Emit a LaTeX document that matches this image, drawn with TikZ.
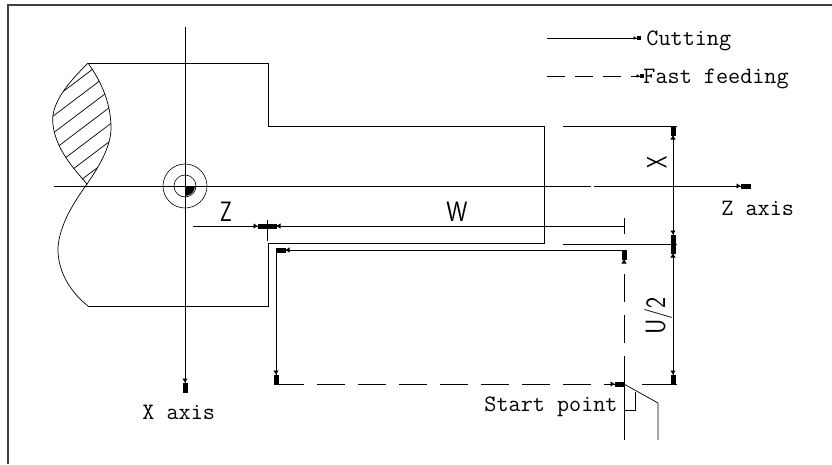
\documentclass[tikz,border=0pt]{standalone}
\usetikzlibrary{arrows.meta}
\newcommand\legfont{\ttfamily\fontsize{23.5}{23.5}\selectfont}
\newcommand\cadfont{\sffamily\fontsize{28}{28}\selectfont}
\begin{document}
\begin{tikzpicture}[x=1pt,y=-1pt,line width=0.9pt,
  blk/.tip={Triangle[length=4pt,width=5pt]Rectangle[length=10pt,width=5pt,sep=-0.5pt]},
  sblk/.tip={Triangle[length=3pt,width=3.5pt]Rectangle[length=4pt,width=3.5pt,sep=-0.5pt]},
  tip/.style={-{blk}},
  bitip/.style={{blk}-{blk}},
  smalltip/.style={-{sblk}},
  rapid/.style={dash pattern=on 28pt off 13pt},
  legdash/.style={dash pattern=on 18pt off 10pt},
  txt/.style={inner sep=0pt,font=\legfont},
  cad/.style={inner sep=0pt,font=\cadfont}]
\useasboundingbox (0,0) rectangle (832,464);
% frame
\draw[line width=2pt,black!75] (8,464) -- (8,5) -- (832,5);

% key points
\coordinate (O) at (185,186);
\coordinate (Xtop) at (185,27);
\coordinate (Xend) at (185,392);
\coordinate (Zstart) at (54,186);
\coordinate (Zend) at (750,186);

% workpiece outline
\draw (88,63) -- (268,63) -- (268,126) -- (544,126) -- (544,243) -- (268,243) -- (268,306) -- (88,306);
% broken-out section (hatched lens)
\def\lens{(88,63) .. controls (66,85) and (50,105) .. (53,125) .. controls (56,150) and (75,170) .. (87,184)
  .. controls (100,165) and (112,145) .. (111,125) .. controls (110,100) and (100,80) .. (88,63)}
\draw[line width=0.7pt] \lens;
\begin{scope}
  \clip \lens;
  \foreach \c in {75,92,...,280}{
    \draw[line width=0.7pt] (40,\c) -- (130,\c-68);
  }
\end{scope}
% break line below
\draw[line width=0.7pt] (87,184) .. controls (72,205) and (60,225) .. (58,247) .. controls (57,270) and (70,292) .. (88,306);

% axes
\draw (Xtop) -- (185,380);
\draw[tip] (185,370) -- (Xend);
\draw (Zstart) -- (591,186);
\draw (594,186) -- (740,186);
\draw[tip] (730,186) -- (Zend);
\node[txt,anchor=base west] (xaxis) at (142,419) {X axis};
\node[txt,anchor=base west] (zaxis) at (721,215) {Z axis};

% centre symbol
\draw[line width=0.6pt] (O) circle (22);
\draw[line width=0.6pt] (O) circle (11);
\fill (O) -- ++(10,0) arc[start angle=0,end angle=90,radius=10] -- cycle;

% legend
\coordinate (c1) at (547,38);
\coordinate (c2) at (640,38);
\coordinate (f1) at (547,76);
\coordinate (f2) at (643,76);
\draw[smalltip] (c1) -- (c2);
\draw[smalltip,legdash] (f1) -- (f2);
\node[txt,anchor=base west] (cut) at (646,45) {Cutting};
\node[txt,anchor=base west] (fast) at (643,83) {Fast feeding};

% Z / W dimensions
\coordinate (zd0) at (193,226);
\coordinate (zd1) at (267,226);
\coordinate (wd1) at (624,226);
\draw[tip] (zd0) -- (zd1);
\draw[tip] (wd1) -- (zd1);
\draw[line width=0.7pt] (267,220) -- (267,241);
\draw[line width=0.7pt] (624,218) -- (624,234);
\node[cad] (Zl) at (226,212) {\scalebox{0.75}[1]{Z}};
\node[cad] (Wl) at (457,212) {\scalebox{0.85}[1]{W}};

% tool path
\coordinate (S) at (624,384);
\coordinate (A) at (624,250);
\coordinate (B) at (276,250);
\coordinate (C) at (276,384);
\draw[rapid,tip] (S) -- (A);
\draw[tip] (A) -- (B);
\draw[tip] (B) -- (C);
\draw[rapid,tip] (C) -- (S);
\node[txt,anchor=base west] (start) at (484,411) {Start point};

% tool
\draw[line width=0.7pt] (S) -- (624,440);
\draw[line width=0.7pt] (S) -- (658,403) -- (658,440);
\draw[line width=0.7pt] (624,410) -- (635,410) -- (635,392);

% X and U/2 dimensions
\draw[line width=0.7pt] (563,126) -- (677,126);
\draw[line width=0.7pt] (563,244) -- (677,244);
\draw[line width=0.7pt] (642,384) -- (677,384);
\coordinate (d0) at (673,126);
\coordinate (d1) at (673,244);
\coordinate (d2) at (673,384);
\draw[bitip] (d0) -- (d1);
\draw[bitip] (d1) -- (d2);
\node[cad,rotate=90] (Xl) at (657,162) {\scalebox{0.7}[1]{X}};
\node[cad,rotate=90] (Ul) at (658,316) {\scalebox{0.85}[1]{U/2}};
\end{tikzpicture}
\end{document}
